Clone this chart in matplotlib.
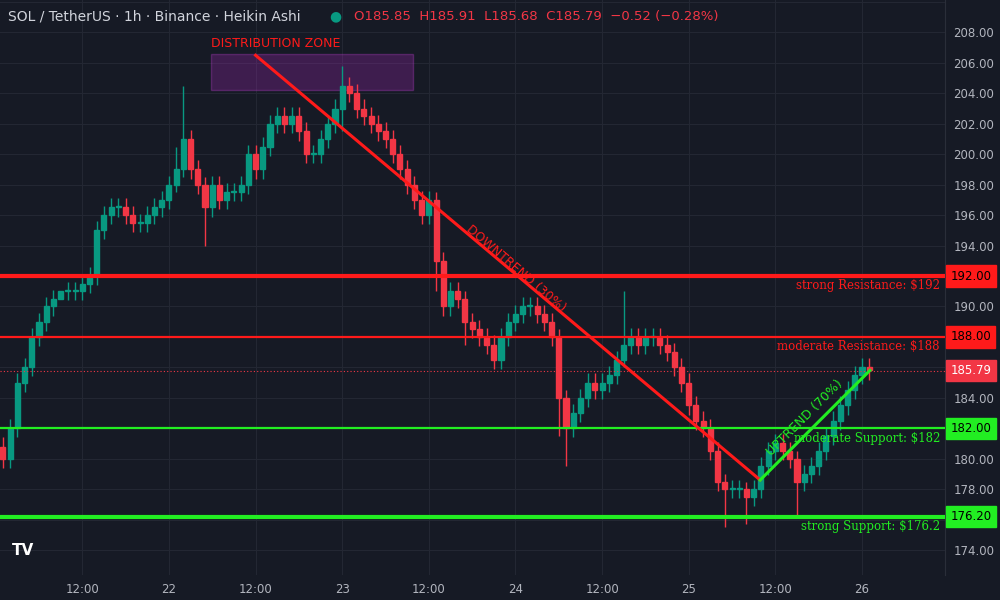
import matplotlib
matplotlib.use("Agg")
import matplotlib.pyplot as plt
from matplotlib.patches import Rectangle

# hourly Heikin Ashi closes, starting 21st 01:00
closes = [180, 182, 185, 186, 188, 189, 190, 190.5, 191, 191, 191, 191.5, 192, 195, 196, 196.5,
          196.5, 196, 195.5, 195.5, 196, 196.5, 197, 198, 199, 201, 199, 198, 196.5, 198, 197,
          197.5, 197.5, 198, 200, 199, 200.5, 202, 202.5, 202, 202.5, 201.5, 200, 200, 201, 202,
          203, 204.5, 204, 203, 202.5, 202, 201.5, 201, 200, 199, 198, 197, 196, 197, 193, 190,
          191, 190.5, 189, 188.5, 188, 187.5, 186.5, 188, 189, 189.5, 190, 190, 189.5, 189, 188,
          184, 182, 183, 184, 185, 184.5, 185, 185.5, 186.5, 187.5, 188, 187.5, 188, 188, 187.5,
          187, 186, 185, 183.5, 182.5, 182, 180.5, 178.5, 178, 178, 178, 177.5, 178, 179.5,
          180.5, 181, 180.5, 180, 178.5, 179, 179.5, 180.5, 181.5, 182.5, 183.5, 184.5, 185.5,
          186, 185.8]
first_open = 180.8
wick_up = 0.6
wick_dn = 0.6
big_wicks = {8: (0, 0), 24: (1.5, 0.5), 25: (3.5, 0.5), 28: (0.5, 2.5), 47: (1.3, 1.5),
             60: (0.5, 2), 64: (0.5, 1.5), 77: (0.5, 2.5), 78: (0.5, 2.5), 86: (3.5, 0.5),
             100: (0.5, 2.5), 103: (0.5, 1.8), 110: (0.5, 2.2)}
start_hour = 25
levels = [(192, "#ff1a1a", 3, "strong Resistance: $192", 191.35),
          (188, "#ff1a1a", 1.6, "moderate Resistance: $188", 187.35),
          (182, "#22ee22", 1.6, "moderate Support: $182", 181.35),
          (176.2, "#22ee22", 3, "strong Support: $176.2", 175.55)]
last_price = 185.79
yticks = [174, 178, 180, 184, 190, 194, 196, 198, 200, 202, 204, 206, 208]
xtick_hours = [36, 48, 60, 72, 84, 96, 108, 120, 132, 144]
xtick_labels = ["12:00", "22", "12:00", "23", "12:00", "24", "12:00", "25", "12:00", "26"]

BG = "#161a25"
UP, DN = "#089981", "#f23645"
fig = plt.figure(figsize=(10, 6), dpi=100, facecolor=BG)
ax = fig.add_axes([0, 25/600, 0.945, 575/600], facecolor=BG)
ax.set_xlim(24.6, 155.5)
ax.set_ylim(172.36, 210.13)
for y in range(174, 211, 2):
    ax.axhline(y, color="#232733", lw=0.8, zorder=0)
for h in xtick_hours:
    ax.axvline(h, color="#232733", lw=0.8, zorder=0)

prev = first_open
for i, c in enumerate(closes):
    o = prev
    h = start_hour + i
    wu, wd = big_wicks.get(i, (wick_up, wick_dn))
    col = UP if c >= o else DN
    ax.vlines(h, min(o, c) - wd, max(o, c) + wu, color=col, lw=1, zorder=2)
    ax.add_patch(Rectangle((h - 0.35, min(o, c)), 0.7, max(abs(c - o), 0.08), color=col, zorder=3))
    prev = c

for y, col, lw, lab, ty in levels:
    ax.axhline(y, color=col, lw=lw, zorder=4)
    ax.text(154.8, ty, lab, color=col, fontsize=8.5, ha="right", va="center", zorder=5,
            family="DejaVu Serif")
ax.axhline(last_price, color=DN, lw=0.8, ls=(0, (1, 2)), zorder=4)

# distribution zone
ax.add_patch(Rectangle((53.8, 204.2), 28.0, 2.4, facecolor="#9c27b0", alpha=0.3,
                       edgecolor="#c040d0", lw=1, zorder=1))
ax.text(53.8, 207.3, "DISTRIBUTION ZONE", color="#ff1a1a", fontsize=9, va="center")

# trend lines
ax.plot([60.0, 129.9], [206.5, 178.6], color="#ff1a1a", lw=2.2, zorder=5)
ax.text(96.0, 192.5, "DOWNTREND (30%)", color="#ff1a1a", fontsize=9, rotation=-40.5,
        ha="center", va="center", zorder=6)
ax.plot([129.9, 145.1], [178.6, 185.8], color="#22ee22", lw=2.2, zorder=5)
ax.text(136.1, 182.7, "UPTREND (70%)", color="#22ee22", fontsize=9, rotation=45,
        ha="center", va="center", zorder=6)

ax.set_xticks(xtick_hours, xtick_labels)
ax.yaxis.tick_right()
ax.set_yticks(yticks, [f"{y:.2f}" for y in yticks])
ax.tick_params(colors="#b2b5be", labelsize=8.5, length=0, pad=6)
for s in ax.spines.values():
    s.set_visible(False)
ax.spines["right"].set_visible(True)
ax.spines["right"].set_color("#2a2e39")

def pricebox(y, col, txtcol):
    ax.annotate(f"{y:.2f}", xy=(1.0, y), xycoords=("axes fraction", "data"),
                xytext=(4, 0), textcoords="offset points", ha="left", va="center",
                fontsize=8.5, color=txtcol, annotation_clip=False,
                bbox=dict(boxstyle="square,pad=0.35", fc=col, ec=col), zorder=10)
pricebox(192, "#ff1a1a", "black")
pricebox(188, "#ff1a1a", "black")
pricebox(last_price, DN, "white")
pricebox(182, "#22ee22", "black")
pricebox(176.2, "#22ee22", "black")

fig.text(0.008, 0.972, "SOL / TetherUS · 1h · Binance · Heikin Ashi", color="#d1d4dc",
         fontsize=10, va="center")
fig.text(0.329, 0.972, "●", color=UP, fontsize=10, va="center")
fig.text(0.354, 0.972, "O185.85  H185.91  L185.68  C185.79  −0.52 (−0.28%)", color=DN,
         fontsize=9.5, va="center")
fig.text(0.012, 0.083, "TV", color="white", fontsize=11, fontweight="bold", va="center")
fig.savefig("out.png", facecolor=BG)
